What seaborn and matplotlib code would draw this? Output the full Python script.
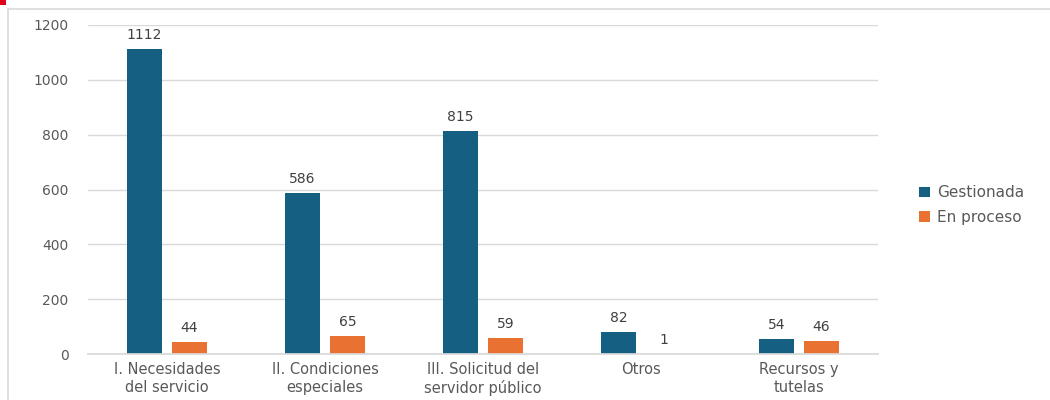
import matplotlib
matplotlib.use("Agg")
import matplotlib.pyplot as plt
import seaborn as sns
import pandas as pd
from matplotlib.patches import Rectangle

categories = ["I. Necesidades\ndel servicio", "II. Condiciones\nespeciales",
              "III. Solicitud del\nservidor público", "Otros", "Recursos y\ntutelas"]
gestionada = [1112, 586, 815, 82, 54]
en_proceso = [44, 65, 59, 1, 46]
series = ["Gestionada", "En proceso"]
colors = ["#156082", "#E97132"]
yticks = [0, 200, 400, 600, 800, 1000, 1200]

df = pd.DataFrame({
    "cat": categories * 2,
    "val": gestionada + en_proceso,
    "serie": [series[0]] * len(categories) + [series[1]] * len(categories),
})

sns.set_theme(style="white")
plt.rcParams["font.family"] = ["DejaVu Sans"]

fig = plt.figure(figsize=(10.5, 4), dpi=100)
ax = fig.add_axes([88/1050, 1-354/400, 790/1050, 329/400])

sns.barplot(data=df, x="cat", y="val", hue="serie", palette=colors,
            width=0.57, gap=0.22, ax=ax, legend=True, saturation=1, linewidth=0)

ax.set_xlim(-0.5, 4.5)
ax.set_ylim(0, 1200)
ax.set_yticks(yticks)
ax.set_yticklabels([str(t) for t in yticks], fontsize=10, color="#595959")
ax.tick_params(axis="y", length=0, pad=14)
ax.tick_params(axis="x", length=0, pad=6)
ax.set_xticks(range(len(categories)))
ax.set_xticklabels(categories, fontsize=10.5, color="#595959", linespacing=1.2, va="top")
ax.set_xlabel("")
ax.set_ylabel("")
ax.yaxis.grid(True, color="#D9D9D9", linewidth=1)
ax.set_axisbelow(True)
for s in ["top", "right", "left"]:
    ax.spines[s].set_visible(False)
ax.spines["bottom"].set_color("#D9D9D9")

for cont in ax.containers:
    ax.bar_label(cont, fmt="%d", padding=5, fontsize=10, color="#404040")

handles, labels = ax.get_legend_handles_labels()
ax.legend_.remove()
fig.legend(handles, labels, loc="center left", bbox_to_anchor=(0.862, 0.487),
           frameon=False, fontsize=11, handlelength=0.7, handleheight=0.7,
           handletextpad=0.5, labelspacing=0.65, labelcolor="#595959")

# outer chart frame and corner mark
fig.patches.append(Rectangle((8/1050, -0.1), 1.2, 1 - 9/400 + 0.1, transform=fig.transFigure,
                             fill=False, edgecolor="#D9D9D9", linewidth=1.2))
fig.patches.append(Rectangle((0, 1-5/400), 6/1050, 5/400, transform=fig.transFigure,
                             facecolor="#E0001B", edgecolor="none"))

fig.savefig("out.png", dpi=100)
